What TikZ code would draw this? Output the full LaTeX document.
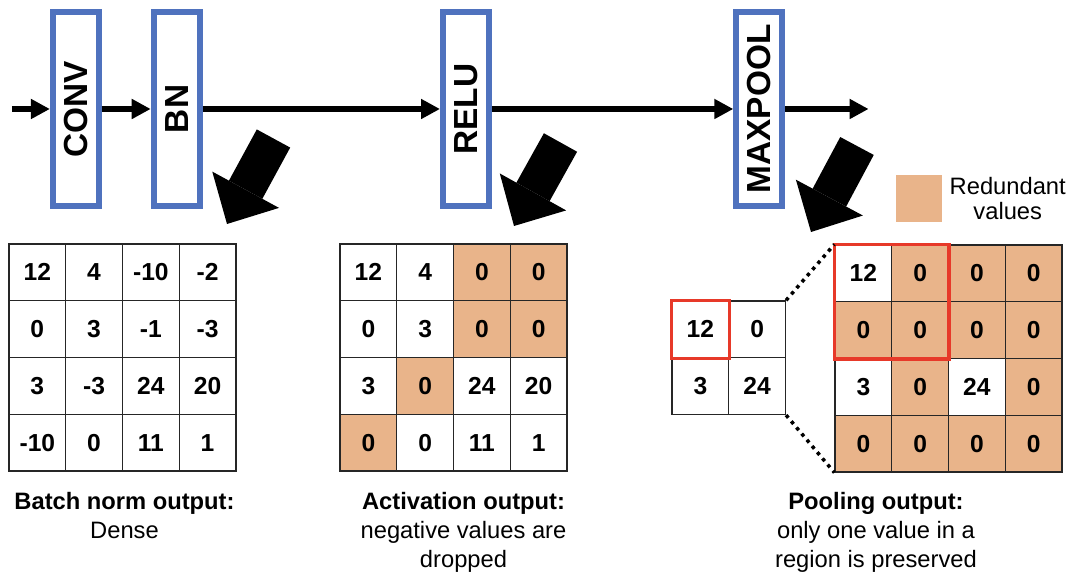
\documentclass[tikz,border=0pt]{standalone}
\usepackage{fontspec}
\setmainfont{Liberation Sans}
\usepackage{graphicx}
\usetikzlibrary{arrows.meta,positioning,matrix}

\definecolor{layerblue}{RGB}{79,114,190}
\definecolor{dropfill}{RGB}{233,180,138}
\definecolor{keepred}{RGB}{231,57,41}

\begin{document}
\begin{tikzpicture}[>={Triangle[length=0.38cm,width=0.38cm]},
  layer/.style={draw=layerblue,line width=3.3pt,fill=white,minimum width=0.92cm,minimum height=3.89cm,inner sep=0pt,font=\fontsize{19}{22}\selectfont\bfseries},
  flow/.style={->,line width=3.4pt},
  bigarrow/.style={-{Triangle[length=0.78cm,width=1.52cm,line width=0pt]},line width=0.76cm},
  grid/.style={matrix of nodes,anchor=north west,inner sep=0pt,column sep=-0.7pt,row sep=-0.7pt,
    nodes={draw=black!85,line width=0.7pt,minimum width=1.135cm,minimum height=1.135cm,inner sep=0pt,anchor=center,font=\fontsize{14}{16}\selectfont\bfseries}},
  drop/.style={fill=dropfill},
  keep/.style={draw=keepred,line width=2pt},
  zoomline/.style={line width=2pt,dash pattern=on 2pt off 2.6pt},
  caption/.style={align=center,anchor=north,inner sep=0pt,font=\fontsize{13.5}{16.5}\selectfont}]
\useasboundingbox (0,0) rectangle (21.5,-11.56);

\node[layer] (conv) at (1.516,-2.18) {\rotatebox{90}{CONV}};
\node[layer,right=0.98cm of conv] (bn) {\rotatebox{90}{BN}};
\node[layer,right=4.75cm of bn] (relu) {\rotatebox{90}{RELU}};
\node[layer,right=4.83cm of relu] (maxpool) {\rotatebox{90}{MAXPOOL}};
\coordinate[left=0.76cm of conv] (in);
\coordinate[right=1.67cm of maxpool] (out);
\draw[flow] (in) -- (conv);
\draw[flow] (conv) -- (bn);
\draw[flow] (bn) -- (relu);
\draw[flow] (relu) -- (maxpool);
\draw[flow] (maxpool) -- (out);

\coordinate (bnfrom) at (5.47,-2.77);
\coordinate (bnto) at (4.54,-4.48);
\coordinate (actfrom) at (11.21,-2.85);
\coordinate (actto) at (10.28,-4.52);
\coordinate (poolfrom) at (17.14,-2.92);
\coordinate (poolto) at (16.22,-4.64);
\draw[bigarrow] (bnfrom) -- (bnto);
\draw[bigarrow] (actfrom) -- (actto);
\draw[bigarrow] (poolfrom) -- (poolto);

\node[fill=dropfill,minimum width=0.92cm,minimum height=0.94cm,inner sep=0pt] (key) at (18.38,-3.97) {};
\node[align=center,inner sep=0pt,right=0.14cm of key,font=\fontsize{13.5}{14.5}\selectfont] (keytext) {Redundant\\values};

\matrix[grid] (bnmat) at (0.16,-4.86) {
  12 & 4 & -10 & -2 \\
  0 & 3 & -1 & -3 \\
  3 & -3 & 24 & 20 \\
  -10 & 0 & 11 & 1 \\
};
\matrix[grid] (actmat) at (6.78,-4.86) {
  12 & 4 & |[drop]| 0 & |[drop]| 0 \\
  0 & 3 & |[drop]| 0 & |[drop]| 0 \\
  3 & |[drop]| 0 & 24 & 20 \\
  |[drop]| 0 & 0 & 11 & 1 \\
};
\matrix[grid] (poolin) at (16.68,-4.88) {
  12 & |[drop]| 0 & |[drop]| 0 & |[drop]| 0 \\
  |[drop]| 0 & |[drop]| 0 & |[drop]| 0 & |[drop]| 0 \\
  3 & |[drop]| 0 & 24 & |[drop]| 0 \\
  |[drop]| 0 & |[drop]| 0 & |[drop]| 0 & |[drop]| 0 \\
};
\matrix[grid] (poolout) at (13.42,-6.0) {
  12 & 0 \\
  3 & 24 \\
};

\draw[keep] (poolout-1-1.north west) rectangle (poolout-1-1.south east);
\draw[keep] (poolin-1-1.north west) rectangle (poolin-2-2.south east);
\draw[zoomline] (poolout-1-2.north east) -- (poolin-1-1.north west);
\draw[zoomline] (poolout-2-2.south east) -- (poolin-4-1.south west);

\node[caption] (bncap) at (2.49,-9.84) {\textbf{Batch norm output:}\\Dense};
\node[caption] (actcap) at (9.27,-9.84) {\textbf{Activation output:}\\negative values are\\dropped};
\node[caption] (poolcap) at (17.52,-9.84) {\textbf{Pooling output:}\\only one value in a\\region is preserved};
\end{tikzpicture}
\end{document}
